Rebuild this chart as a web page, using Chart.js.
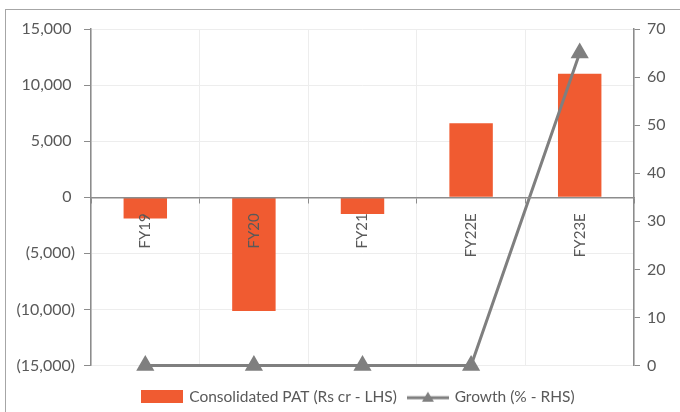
<!DOCTYPE html>
<html lang="en">
<head>
  <meta charset="UTF-8" />
  <title>Consolidated PAT</title>
  <script src="https://cdn.jsdelivr.net/npm/chart.js"></script>
  <style>
    body { margin: 0; padding: 0; background: #fff; }
    #frame {
      position: absolute; left: 5px; top: 9px; width: 700px; height: 420px;
      border-top: 1px solid #a6a6a6; border-left: 1px solid #a6a6a6;
    }
    #wrap { position: absolute; left: 0; top: 0; width: 680px; height: 412px; }
  </style>
</head>
<body>
  <div id="frame"></div>
  <div id="wrap"><canvas id="chart"></canvas></div>
  <script>
    const years = ["FY19", "FY20", "FY21", "FY22E", "FY23E"];
    const pat = [-1900, -10150, -1500, 6600, 11000];
    const growth = [0, 0, 0, 0, 65];
    const leftTicks = [-15000, 15000, 5000];   // min, max, step
    const rightTicks = [0, 70, 10];

    const ORANGE = "#F05B31";
    const GREY = "#7F7F7F";
    const TEXT = "#595959";
    const AXIS = "#8C8C8C";

    // legend markers
    const barMark = document.createElement("canvas");
    barMark.width = 42; barMark.height = 13;
    let c = barMark.getContext("2d");
    c.fillStyle = ORANGE;
    c.fillRect(0, 0, 42, 13);

    const lineMark = document.createElement("canvas");
    lineMark.width = 42; lineMark.height = 14;
    c = lineMark.getContext("2d");
    c.strokeStyle = GREY; c.lineWidth = 3;
    c.beginPath(); c.moveTo(0, 8); c.lineTo(42, 8); c.stroke();
    c.fillStyle = GREY;
    c.beginPath(); c.moveTo(21, 2); c.lineTo(27, 12); c.lineTo(15, 12); c.closePath(); c.fill();

    function fmt(v) {
      const s = Math.abs(v).toLocaleString("en-US");
      return v < 0 ? "(" + s + ")" : s + "\u2008";
    }

    // legend sits a little right of centre in the original
    const nudgeLegend = {
      id: "nudgeLegend",
      afterLayout(chart) {
        chart.legend.left += 19;
        chart.legend.right += 19;
      }
    };

    new Chart(document.getElementById("chart"), {
      type: "bar",
      data: {
        labels: years,
        datasets: [{
          label: "Consolidated PAT (Rs cr - LHS)",
          data: pat,
          backgroundColor: ORANGE,
          yAxisID: "y",
          categoryPercentage: 1,
          barPercentage: 0.4,
          order: 1
        }, {
          type: "line",
          label: "Growth (% - RHS)",
          data: growth,
          borderColor: GREY,
          backgroundColor: GREY,
          borderWidth: 3,
          pointStyle: "triangle",
          pointRadius: 7.5,
          pointHoverRadius: 7.5,
          yAxisID: "y1",
          clip: false,
          order: 0
        }]
      },
      plugins: [nudgeLegend],
      options: {
        responsive: true,
        maintainAspectRatio: false,
        animation: false,
        layout: { padding: { top: 29, left: 0, right: 0, bottom: -2.5 } },
        plugins: {
          tooltip: { enabled: false },
          legend: {
            position: "bottom",
            title: { display: true, text: " ", font: { size: 1, lineHeight: 1 }, padding: { top: 10.5, bottom: 0 } },
            labels: {
              usePointStyle: true,
              pointStyleWidth: 38,
              padding: 12,
              color: TEXT,
              font: { family: "Lato", size: 15.5 },
              sort: (a, b) => a.datasetIndex - b.datasetIndex,
              generateLabels(chart) {
                const items = Chart.defaults.plugins.legend.labels.generateLabels(chart);
                items.forEach(it => { it.pointStyle = it.datasetIndex === 0 ? barMark : lineMark; });
                return items;
              }
            }
          }
        },
        scales: {
          x: {
            position: { y: 0 },
            offset: true,
            grid: { offset: true, color: "#EDEDED", tickColor: AXIS, tickLength: 5 },
            border: { color: AXIS, width: 1.5, z: 1 },
            ticks: {
              z: 1,
              minRotation: 90, maxRotation: 90, autoSkip: false, padding: 11,
              color: TEXT, font: { family: "Lato", size: 15 }
            },
            afterFit(s) { s.height = 0; }
          },
          y: {
            position: "left",
            min: leftTicks[0], max: leftTicks[1],
            grid: { color: "#EDEDED", tickColor: AXIS, tickLength: 7 },
            border: { color: AXIS, width: 1.5 },
            ticks: {
              stepSize: leftTicks[2], padding: 9,
              color: TEXT, font: { family: "Lato", size: 16 },
              callback: v => fmt(v)
            },
            afterFit(s) { s.width = 91; }
          },
          y1: {
            position: "right",
            min: rightTicks[0], max: rightTicks[1],
            grid: { drawOnChartArea: false, tickColor: AXIS, tickLength: 6 },
            border: { color: AXIS, width: 1.5 },
            ticks: {
              stepSize: rightTicks[2], padding: 7,
              color: TEXT, font: { family: "Lato", size: 16 }
            },
            afterFit(s) { s.width = 46; }
          }
        }
      }
    });
  </script>
</body>
</html>
